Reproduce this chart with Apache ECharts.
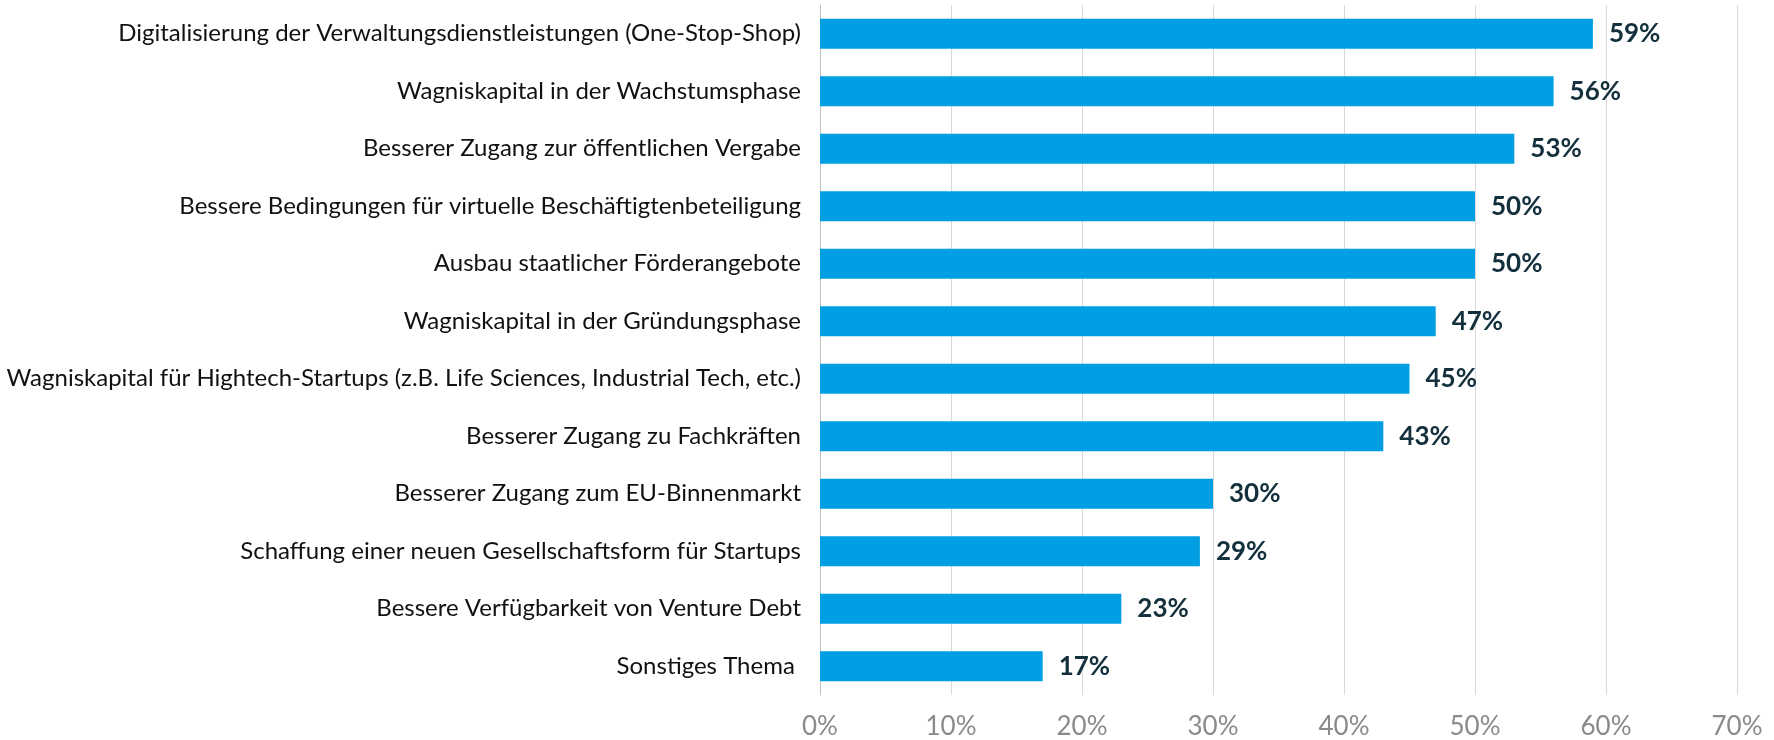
<!DOCTYPE html>
<html>
<head>
<meta charset="utf-8">
<script src="https://cdn.jsdelivr.net/npm/echarts@6/dist/echarts.min.js"></script>
<style>
html, body { margin: 0; padding: 0; background: #fff; }
#chart { width: 1774px; height: 740px; }
</style>
</head>
<body>
<div id="chart"></div>
<script>
var categories = [
	'Digitalisierung der Verwaltungsdienstleistungen (One-Stop-Shop)',
	'Wagniskapital in der Wachstumsphase',
	'Besserer Zugang zur öffentlichen Vergabe',
	'Bessere Bedingungen für virtuelle Beschäftigtenbeteiligung',
	'Ausbau staatlicher Förderangebote',
	'Wagniskapital in der Gründungsphase',
	'Wagniskapital für Hightech-Startups (z.B. Life Sciences, Industrial Tech, etc.)',
	'Besserer Zugang zu Fachkräften',
	'Besserer Zugang zum EU-Binnenmarkt',
	'Schaffung einer neuen Gesellschaftsform für Startups',
	'Bessere Verfügbarkeit von Venture Debt',
	'Sonstiges Thema '
];
var values = [59, 56, 53, 50, 50, 47, 45, 43, 30, 29, 23, 17];

var myChart = echarts.init(document.getElementById('chart'));
var option = {
	animation: false,
	textStyle: { fontFamily: 'Lato' },
	grid: { left: 820, right: 37, top: 5, bottom: 44, containLabel: false },
	xAxis: {
		type: 'value',
		min: 0,
		max: 70,
		interval: 10,
		axisLine: { show: false },
		axisTick: { show: false },
		splitLine: { show: true, lineStyle: { color: '#d9d9d9', width: 1 } },
		axisLabel: {
			formatter: '{value}%',
			color: '#8a8a8a',
			fontSize: 26,
			margin: 19,
			fontFamily: 'Lato'
		}
	},
	yAxis: {
		type: 'category',
		inverse: true,
		data: categories,
		axisLine: { show: true, lineStyle: { color: '#bfbfbf', width: 1 } },
		axisTick: { show: false },
		axisLabel: {
			color: '#111',
			fontSize: 24,
			margin: 19,
			fontFamily: 'Lato'
		}
	},
	series: [{
		type: 'bar',
		data: values,
		barWidth: '52%',
		itemStyle: { color: '#009fe3' },
		label: {
			show: true,
			position: 'right',
			distance: 16,
			formatter: '{c}%',
			color: '#14303d',
			fontSize: 26,
			fontWeight: 'bold',
			fontFamily: 'Lato'
		}
	}]
};
myChart.setOption(option);
</script>
</body>
</html>
